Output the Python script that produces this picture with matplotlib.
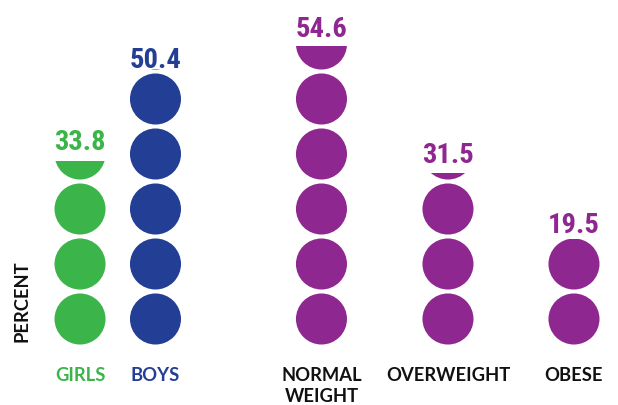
import matplotlib
matplotlib.use("Agg")
import matplotlib.pyplot as plt
from matplotlib.patches import Circle, Rectangle
from matplotlib import font_manager

categories = ["GIRLS", "BOYS", "NORMAL\nWEIGHT", "OVERWEIGHT", "OBESE"]
values = [33.8, 50.4, 54.6, 31.5, 19.5]
value_labels = ["33.8", "50.4", "54.6", "31.5", "19.5"]

# layout / style
colors = ["#3BB54A", "#233E95", "#8E278F", "#8E278F", "#8E278F"]
label_colors = ["#3BB54A", "#233E95", "#111111", "#111111", "#111111"]
xpos = [14.55, 28.27, 58.45, 81.45, 104.36]
label_gap = [2.1, 0.5, 1.9, 2.0, 1.3]
unit = 10.0          # percent per circle
radius = 4.64
px = 5.5             # pixels per data unit

names = {f.name for f in font_manager.fontManager.ttflist}
num_font = [f for f in ["Liberation Sans Narrow", "Roboto Condensed", "DejaVu Sans"] if f in names]
lab_font = [f for f in ["Lato", "Open Sans", "DejaVu Sans"] if f in names]

fig = plt.figure(figsize=(6.18, 4.06), dpi=100)
ax = fig.add_axes([0, 0, 1, 1])
ax.set_xlim(0, 618 / px)
ax.set_ylim((347.5 - 406) / px, 347.5 / px)
ax.set_aspect("equal")
ax.axis("off")

for i, v in enumerate(values):
    n = int(v // unit) + 1
    clip = Rectangle((xpos[i] - 10, -1), 20, v + 1, transform=ax.transData)
    for k in range(n):
        c = Circle((xpos[i], unit * k + unit / 2), radius, facecolor=colors[i],
                   edgecolor="none")
        ax.add_patch(c)
        c.set_clip_path(clip)
    ax.text(xpos[i], v + label_gap[i], value_labels[i], ha="center", va="baseline",
            fontsize=20.5, fontweight="bold", color=colors[i], family=num_font)
    ax.text(xpos[i], -3.6, categories[i], ha="center", va="top", fontsize=13.2,
            fontweight="bold", color=label_colors[i], family=lab_font,
            linespacing=1.25)

ax.text(22 / px, (347.5 - 301) / px, "PERCENT", rotation=90, ha="center", va="center",
        fontsize=13.2, fontweight="bold", color="#111111", family=lab_font)

fig.savefig("out.png", dpi=100)
